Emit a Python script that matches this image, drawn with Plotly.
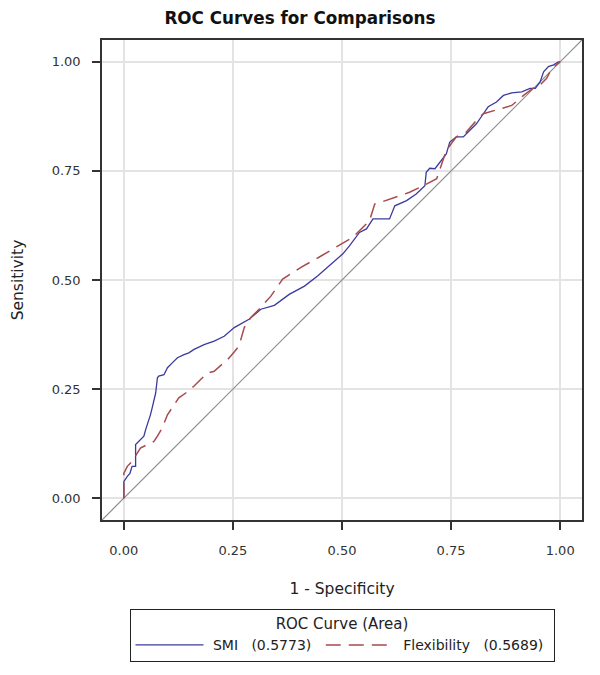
import plotly.graph_objects as go

# ---- data ----
smi_fpr = [0.0, 0.0, 0.008, 0.014, 0.019, 0.027, 0.027, 0.034, 0.046, 0.050, 0.057, 0.061, 0.065,
           0.069, 0.073, 0.077, 0.080, 0.092, 0.100, 0.111, 0.123, 0.138, 0.149, 0.161, 0.184,
           0.207, 0.230, 0.253, 0.287, 0.314, 0.345, 0.379, 0.414, 0.444, 0.475, 0.502, 0.517,
           0.540, 0.556, 0.571, 0.609, 0.621, 0.648, 0.670, 0.690, 0.693, 0.701, 0.713, 0.739,
           0.747, 0.762, 0.778, 0.793, 0.808, 0.824, 0.835, 0.854, 0.870, 0.889, 0.912, 0.931,
           0.943, 0.954, 0.962, 0.973, 0.985, 0.996, 1.0]
smi_tpr = [0.0, 0.038, 0.050, 0.057, 0.073, 0.073, 0.123, 0.130, 0.142, 0.157, 0.176, 0.191, 0.207,
           0.222, 0.241, 0.276, 0.280, 0.283, 0.299, 0.310, 0.322, 0.329, 0.333, 0.341, 0.352,
           0.360, 0.371, 0.391, 0.410, 0.433, 0.442, 0.467, 0.486, 0.509, 0.536, 0.560, 0.578,
           0.609, 0.617, 0.640, 0.640, 0.670, 0.682, 0.697, 0.716, 0.747, 0.756, 0.755, 0.789,
           0.816, 0.828, 0.828, 0.843, 0.858, 0.881, 0.897, 0.908, 0.923, 0.929, 0.931, 0.939,
           0.939, 0.954, 0.977, 0.989, 0.993, 1.0, 1.0]

flex_fpr = [0.0, 0.0, 0.008, 0.019, 0.038, 0.054, 0.069, 0.077, 0.088, 0.100, 0.111, 0.126, 0.142,
            0.161, 0.176, 0.192, 0.207, 0.222, 0.238, 0.253, 0.264, 0.276, 0.291, 0.310, 0.337,
            0.364, 0.406, 0.452, 0.490, 0.525, 0.563, 0.575, 0.594, 0.625, 0.655, 0.686, 0.717,
            0.739, 0.762, 0.785, 0.808, 0.824, 0.854, 0.889, 0.916, 0.939, 0.950, 0.969, 0.981, 1.0]
flex_tpr = [0.0, 0.057, 0.073, 0.084, 0.115, 0.123, 0.130, 0.142, 0.161, 0.191, 0.207, 0.230, 0.241,
            0.257, 0.272, 0.287, 0.291, 0.303, 0.318, 0.335, 0.349, 0.391, 0.414, 0.433, 0.463,
            0.502, 0.529, 0.555, 0.578, 0.598, 0.636, 0.674, 0.680, 0.690, 0.701, 0.716, 0.732,
            0.797, 0.828, 0.839, 0.866, 0.881, 0.889, 0.900, 0.923, 0.940, 0.943, 0.962, 0.985, 1.0]

chance = [-0.1, 1.1]

tick_vals = [0.0, 0.25, 0.5, 0.75, 1.0]
tick_text = ["0.00", "0.25", "0.50", "0.75", "1.00"]

series_names = ["&nbsp;SMI&nbsp;&nbsp; (0.5773)&nbsp;", "&nbsp;Flexibility&nbsp;&nbsp; (0.5689)&nbsp;"]

FONT = "DejaVu Sans"

fig = go.Figure()
fig.add_trace(go.Scatter(x=chance, y=chance, mode="lines",
                         line=dict(color="#8c8c8c", width=1.2),
                         showlegend=False, hoverinfo="skip"))
fig.add_trace(go.Scatter(x=smi_fpr, y=smi_tpr, mode="lines", name=series_names[0],
                         line=dict(color="#3a3aa0", width=1.3)))
fig.add_trace(go.Scatter(x=flex_fpr, y=flex_tpr, mode="lines", name=series_names[1],
                         line=dict(color="#a84a4e", width=1.5, dash="15px,8px")))

axis_common = dict(
    range=[-0.05, 1.05], tickvals=tick_vals, ticktext=tick_text,
    showgrid=True, gridcolor="#e3e3e3", gridwidth=1.5, zeroline=False,
    showline=True, linecolor="#333333", linewidth=1.5, mirror=True,
    ticks="outside", ticklen=8, tickcolor="#333333", tickwidth=1.5,
    tickfont=dict(family=FONT, size=13, color="#333333"),
    automargin=False,
)

fig.update_layout(
    width=600, height=675,
    margin=dict(l=102, r=18, t=40, b=155),
    paper_bgcolor="white", plot_bgcolor="white",
    font=dict(family=FONT, color="#222222"),
    title=dict(text="<b>ROC Curves for Comparisons</b>", x=0.5, xref="container", xanchor="center",
               y=1 - 18 / 675, yref="container", yanchor="middle",
               font=dict(family=FONT, size=16.8, color="#111111")),
    xaxis=dict(axis_common, ticklabelstandoff=10,
               title=dict(text="1 - Specificity", standoff=26,
                          font=dict(family=FONT, size=15.5, color="#222222"))),
    yaxis=dict(axis_common, ticklabelstandoff=9,
               title=dict(text="Sensitivity", standoff=24,
                          font=dict(family=FONT, size=15.5, color="#222222"))),
    legend=dict(orientation="h", x=0.5, xanchor="center", y=-0.185, yanchor="top",
                bordercolor="#222222", borderwidth=1, bgcolor="white",
                itemwidth=68,
                title=dict(text="ROC Curve (Area)", side="top center",
                           font=dict(family=FONT, size=15, color="#222222")),
                font=dict(family=FONT, size=14, color="#222222")),
)

fig.write_html("out.html", config={"displayModeBar": False},
               post_script="document.body.style.margin='0';")
